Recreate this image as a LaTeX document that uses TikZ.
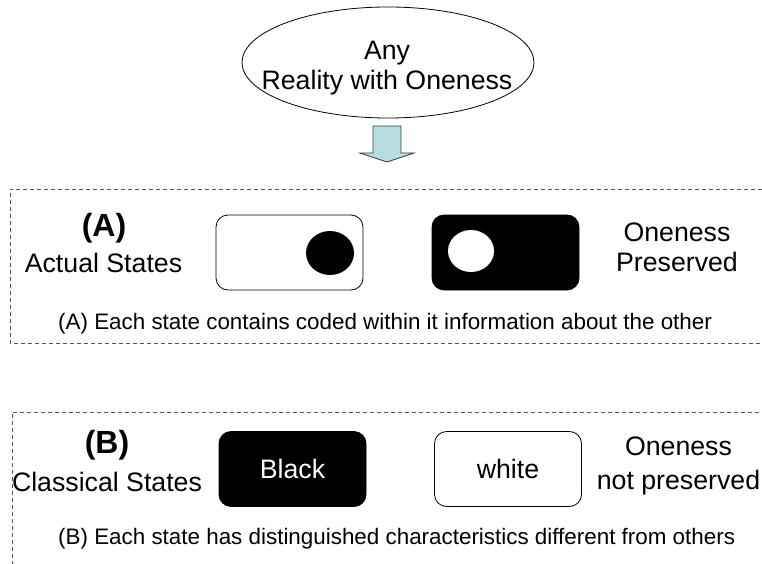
\documentclass[tikz,border=0pt]{standalone}
\usepackage{fontspec}
\setmainfont{Liberation Sans}
\usepackage{tikz}
\usetikzlibrary{shapes.geometric}

\definecolor{arrowfill}{RGB}{183,221,226}
\definecolor{dashgray}{RGB}{85,85,85}

\begin{document}
\begin{tikzpicture}[x=1pt,y=-1pt,
  lbl/.style={font=\fontsize{26.7}{30}\selectfont,align=center,inner sep=0pt},
  casename/.style={font=\fontsize{32}{36}\selectfont\bfseries,inner sep=0pt},
  note/.style={font=\fontsize{22.4}{26}\selectfont,anchor=west,inner sep=0pt},
  wbox/.style={draw,rounded corners=12pt,minimum width=147pt,minimum height=75pt,line width=0.8pt,font=\fontsize{26.7}{30}\selectfont},
  bbox/.style={wbox,fill=black,text=white},
  dbox/.style={draw=dashgray,dash pattern=on 4pt off 3pt,line width=0.8pt}]
\useasboundingbox(0,0) rectangle (762,564);
\clip(0,0) rectangle (762,564);
% top: reality and arrow
\node[draw,ellipse,minimum width=292pt,minimum height=111pt,line width=0.8pt](reality) at (388,62.5){};
\node[lbl](realitytxt) at (387,68){Any\\Reality with Oneness};
\draw[fill=arrowfill,draw=black!75,line width=0.8pt](373,126)--(401,126)--(401,153)--(414,153)--(387,162)--(360,153)--(373,153)--cycle;
% (A) actual states
\draw[dbox](790,189)--(10,189)--(10,343)--(790,343);
\node[casename](caseA) at (104,228){(A)};
\node[lbl](actual) at (103.5,263){Actual States};
\node[wbox](stateA1) at (289.5,252.5){};
\fill(330,253) ellipse[x radius=24,y radius=22];
\node[bbox](stateA2) at (505.5,252.5){};
\fill[white](471,251) ellipse[x radius=23,y radius=21];
\node[lbl](keptA) at (677,247){Oneness\\Preserved};
\node[note](noteA) at (58,324){(A) Each state contains coded within it information about the other};
% (B) classical states
\draw[dbox](12,600)--(12,412)--(790,412);
\node[casename](caseB) at (107,445){(B)};
\node[lbl](classical) at (107,482){Classical States};
\node[bbox](stateB1) at (292.5,469){Black};
\node[wbox](stateB2) at (508,469){white};
\node[lbl](lostB) at (678.5,466){Oneness\\[4.5pt]not preserved};
\node[note](noteB) at (58,539){(B) Each state has distinguished characteristics different from others};
\end{tikzpicture}
\end{document}
